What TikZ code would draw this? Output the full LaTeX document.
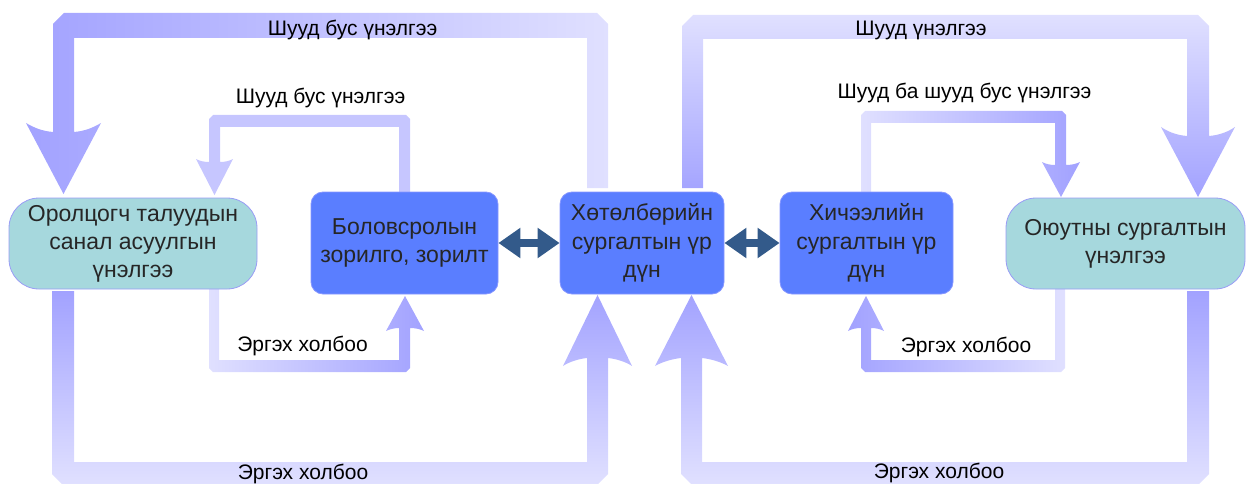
\documentclass[tikz,border=0pt]{standalone}
\usepackage{fontspec}
\setmainfont{Liberation Sans}
\usetikzlibrary{arrows.meta}
\definecolor{nodeteal}{HTML}{A6D8DD}
\definecolor{tealborder}{HTML}{9A9CF5}
\definecolor{nodeblue}{HTML}{5A7EFF}
\definecolor{blueborder}{HTML}{8797FF}
\definecolor{txtgray}{HTML}{262626}
\definecolor{dblcol}{HTML}{335A8A}
\definecolor{arrdark}{HTML}{A2A2FF}
\definecolor{arrlight}{HTML}{E0E0FF}
\definecolor{arrmid}{HTML}{C6C6FF}
\begin{document}
\begin{tikzpicture}[x=1pt,y=-1pt,
  tealnode/.style={draw=tealborder, fill=nodeteal, rounded corners=30pt, line width=0.8pt,
    inner sep=0pt, align=center, text=txtgray, font=\fontsize{23}{28}\selectfont},
  bluenode/.style={draw=blueborder, fill=nodeblue, rounded corners=12pt, line width=0.8pt,
    inner sep=0pt, align=center, text=txtgray, font=\fontsize{23}{28.5}\selectfont},
  lbl/.style={font=\fontsize{21}{24}\selectfont, text=black, inner sep=0pt},
  dbl/.style={line width=8pt, draw=dblcol,
    {Triangle[length=22pt,width=29pt]}-{Triangle[length=22pt,width=29pt]}}
]
\useasboundingbox (0,0) rectangle (1247,484);

% ---- block arrows ----
% top-left big: programme outcomes -> stakeholder survey
\shade[left color=arrdark, right color=arrlight]
  (587,188) -- (587,38) -- (74,38) -- (74,132)
  .. controls (86,131) and (94,127) .. (101,123) -- (63.5,194) -- (26,123)
  .. controls (33,127) and (41,131) .. (53,132) -- (53,24) -- (64,13)
  -- (597,13) -- (608,24) -- (608,188) -- cycle;
% bottom-left big: stakeholder survey -> programme outcomes
\shade[top color=arrdark, bottom color=arrlight]
  (52,291) -- (52,474) -- (62,484) -- (598,484) -- (608,474) -- (608,358)
  .. controls (617,359) and (626,362) .. (632,366) -- (597.5,295) -- (563,366)
  .. controls (569,362) and (578,359) .. (587,358) -- (587,462) -- (74,462)
  -- (74,291) -- cycle;
% top-right big: programme outcomes -> student assessment
\shade[top color=arrlight, bottom color=arrdark]
  (682,188) -- (682,26) -- (693,15) -- (1198,15) -- (1209,26) -- (1209,136)
  .. controls (1221,135) and (1229,131) .. (1235,127) -- (1198,197) -- (1161,127)
  .. controls (1167,131) and (1175,135) .. (1187,136) -- (1187,39) -- (703,39)
  -- (703,188) -- cycle;
% bottom-right big: student assessment -> programme outcomes
\shade[top color=arrdark, bottom color=arrlight]
  (1187,291) -- (1187,462) -- (702,462) -- (702,358)
  .. controls (711,359) and (721,362) .. (728,366) -- (691.5,295) -- (655,366)
  .. controls (662,362) and (672,359) .. (681,358) -- (681,474) -- (691,484)
  -- (1199,484) -- (1209,474) -- (1209,291) -- cycle;
% inner top-left: goals -> stakeholder survey
\shade[left color=arrmid, middle color=arrdark!90!white, right color=arrmid]
  (399,192) -- (399,127) -- (220,127) -- (220,162)
  .. controls (225,162) and (229,161) .. (233,159) -- (214.5,195) -- (196,159)
  .. controls (200,161) and (204,162) .. (209,162) -- (209,119) -- (213,115)
  -- (406,115) -- (410,119) -- (410,192) -- cycle;
% inner bottom-left: stakeholder survey -> goals
\shade[left color=arrlight, right color=arrdark]
  (209,289) -- (209,368) -- (213,372) -- (406,372) -- (410,368) -- (410,328)
  .. controls (415,328) and (420,329) .. (424,331) -- (405,296) -- (386,331)
  .. controls (390,329) and (395,328) .. (399,328) -- (399,360) -- (219,360)
  -- (219,289) -- cycle;
% inner top-right: course outcomes -> student assessment
\shade[left color=arrlight, right color=arrdark]
  (861,192) -- (861,115) -- (865,111) -- (1062,111) -- (1066,115) -- (1066,165)
  .. controls (1071,165) and (1076,164) .. (1080,162) -- (1061,197) -- (1042,162)
  .. controls (1046,164) and (1050,165) .. (1055,165) -- (1055,123) -- (871,123)
  -- (871,192) -- cycle;
% inner bottom-right: student assessment -> course outcomes
\shade[left color=arrdark, right color=arrlight]
  (1055,289) -- (1055,360) -- (871,360) -- (871,328)
  .. controls (876,328) and (880,329) .. (884,331) -- (866,296) -- (848,331)
  .. controls (852,329) and (856,328) .. (861,328) -- (861,368) -- (865,372)
  -- (1061,372) -- (1065,368) -- (1065,289) -- cycle;

% ---- nodes ----
\node[tealnode, minimum width=248pt, minimum height=91pt] (survey) at (133,243.5)
  {Оролцогч талуудын\\санал асуулгын\\үнэлгээ};
\node[bluenode, minimum width=187pt, minimum height=102pt] (goals) at (404.5,243)
  {Боловсролын\\зорилго, зорилт};
\node[bluenode, minimum width=164pt, minimum height=102pt] (prog) at (642,243)
  {Хөтөлбөрийн\\сургалтын үр\\дүн};
\node[bluenode, minimum width=173pt, minimum height=102pt] (course) at (866.5,243)
  {Хичээлийн\\сургалтын үр\\дүн};
\node[tealnode, minimum width=239pt, minimum height=91pt] (student) at (1125.5,243.5)
  {Оюутны сургалтын\\үнэлгээ};

% ---- double arrows ----
\draw[dbl] (goals.east) -- (prog.west);
\draw[dbl] (prog.east) -- (course.west);

% ---- labels ----
\node[lbl] (l1) at (352.5,30) {Шууд бус үнэлгээ};
\node[lbl] (l2) at (320.5,98) {Шууд бус үнэлгээ};
\node[lbl] (l3) at (921,30) {Шууд үнэлгээ};
\node[lbl] (l4) at (964.5,93) {Шууд ба шууд бус үнэлгээ};
\node[lbl] (l5) at (302.5,346) {Эргэх холбоо};
\node[lbl] (l6) at (303,474) {Эргэх холбоо};
\node[lbl] (l7) at (966,347) {Эргэх холбоо};
\node[lbl] (l8) at (939,473) {Эргэх холбоо};
\end{tikzpicture}
\end{document}
